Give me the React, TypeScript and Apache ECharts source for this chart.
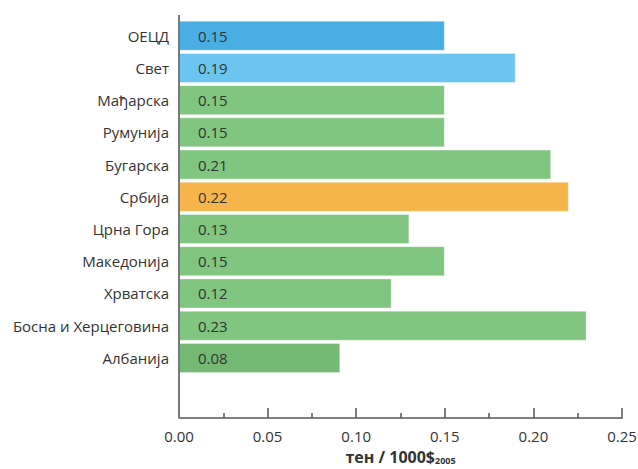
import React, { useEffect, useRef } from "react";
import * as echarts from "echarts";

const categories = [
  "ОЕЦД",
  "Свет",
  "Мађарска",
  "Румунија",
  "Бугарска",
  "Србија",
  "Црна Гора",
  "Македонија",
  "Хрватска",
  "Босна и Херцеговина",
  "Албанија",
];
const values = [0.15, 0.19, 0.15, 0.15, 0.21, 0.22, 0.13, 0.15, 0.12, 0.23, 0.091];
const valueLabels = ["0.15", "0.19", "0.15", "0.15", "0.21", "0.22", "0.13", "0.15", "0.12", "0.23", "0.08"];
const barColors = [
  "#49afe3",
  "#6cc5ee",
  "#80c580",
  "#80c580",
  "#80c580",
  "#f6b54a",
  "#80c580",
  "#80c580",
  "#80c580",
  "#80c580",
  "#73b973",
];
const xTicks = [0, 0.05, 0.1, 0.15, 0.2, 0.25];

const FONT = "Open Sans";

export default function App() {
  const ref = useRef<HTMLDivElement>(null);
  useEffect(() => {
    if (!ref.current) return;
    const chart = echarts.init(ref.current, null, { renderer: "svg" });
    chart.setOption({
      animation: false,
      backgroundColor: "#ffffff",
      grid: { left: 179, right: 16, top: 19.6, bottom: 95, containLabel: false, outerBoundsMode: "none" },
      xAxis: {
        type: "value",
        min: xTicks[0],
        max: xTicks[xTicks.length - 1],
        interval: 0.05,
        offset: 44,
        axisLine: { show: true, lineStyle: { color: "#555", width: 1.5 } },
        axisTick: { show: true, inside: true, length: 10, lineStyle: { color: "#555", width: 1.5 } },
        minorTick: { show: true, splitNumber: 2, length: 5, lineStyle: { color: "#555", width: 1.5 } },
        splitLine: { show: false },
        axisLabel: {
          formatter: (v: number) => v.toFixed(2),
          color: "#333",
          fontFamily: FONT,
          fontSize: 15,
          margin: 10,
        },
        name: "{b|тен / 1000$}{s|2005}",
        nameLocation: "middle",
        nameGap: 31,
        nameTextStyle: {
          rich: {
            b: { fontFamily: FONT, fontSize: 16, fontWeight: "bold", color: "#333", lineHeight: 16 },
            s: { fontFamily: FONT, fontSize: 9, fontWeight: "bold", color: "#333", verticalAlign: "bottom", lineHeight: 16, padding: [4, 0, 0, 0] },
          },
        },
      },
      yAxis: {
        type: "category",
        data: categories,
        inverse: true,
        axisLine: { show: false },
        axisTick: { show: false },
        axisLabel: { color: "#333", fontFamily: FONT, fontSize: 15, margin: 10 },
      },
      graphic: [
        {
          type: "line",
          shape: { x1: 179, y1: 15, x2: 179, y2: 418 },
          style: { stroke: "#777", lineWidth: 2 },
          z: 10,
        },
      ],
      series: [
        {
          type: "bar",
          barWidth: 30,
          data: values.map((v, i) => ({
            value: v,
            itemStyle: { color: barColors[i], borderColor: "rgba(255,255,255,0.35)", borderWidth: 1 },
          })),
          label: {
            show: true,
            position: "insideLeft",
            distance: 19,
            formatter: (p: any) => valueLabels[p.dataIndex],
            color: "#333",
            fontFamily: FONT,
            fontSize: 15,
          },
        },
      ],
    });
    return () => chart.dispose();
  }, []);
  return <div ref={ref} style={{ width: 638, height: 469, position: "absolute", left: 0, top: 0 }} />;
}
